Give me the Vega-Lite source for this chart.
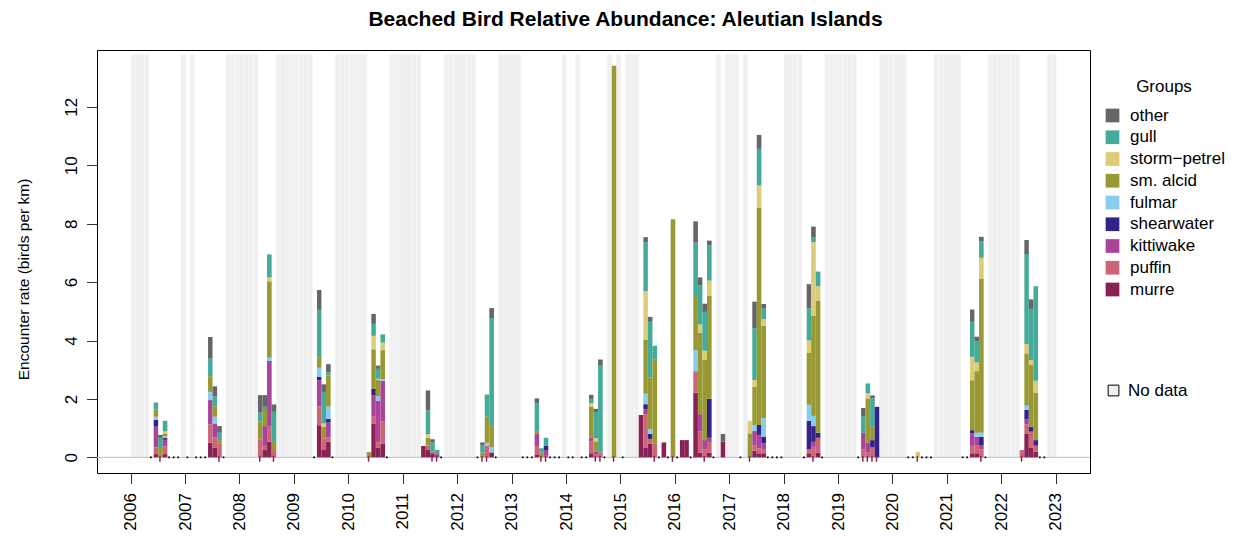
{
"$schema": "https://vega.github.io/schema/vega-lite/v6.json",
"width": 993,
"height": 423,
"autosize": {"type": "none"},
"padding": {"left": 97, "top": 50, "right": 149, "bottom": 65},
"background": "white",
"title": {"text": "Beached Bird Relative Abundance: Aleutian Islands", "anchor": "middle", "frame": "group", "font": "Liberation Sans", "fontSize": 21, "fontWeight": "bold", "color": "#000", "baseline": "alphabetic", "offset": 3, "dx": 32},
"config": {
  "view": {"stroke": "#000", "strokeWidth": 1},
  "axis": {"labelFont": "Liberation Sans", "labelFontSize": 17, "labelColor": "#000", "titleFont": "Liberation Sans", "titleFontSize": 17, "titleFontWeight": "normal", "titleColor": "#000", "tickColor": "#333", "tickSize": 10.5, "domain": false, "grid": false}
},
"datasets": {
  "abund": [
{"m":"2006-06-01","g":"murre","v":0.11},{"m":"2006-06-01","g":"puffin","v":0.23},{"m":"2006-06-01","g":"kittiwake","v":0.71},{"m":"2006-06-01","g":"shearwater","v":0.23},{"m":"2006-06-01","g":"fulmar","v":0.11},{"m":"2006-06-01","g":"sm. alcid","v":0.25},{"m":"2006-06-01","g":"gull","v":0.24},
{"m":"2006-07-01","g":"sm. alcid","v":0.32},{"m":"2006-07-01","g":"gull","v":0.34},{"m":"2006-07-01","g":"other","v":0.11},
{"m":"2006-08-01","g":"murre","v":0.11},{"m":"2006-08-01","g":"puffin","v":0.26},{"m":"2006-08-01","g":"kittiwake","v":0.23},{"m":"2006-08-01","g":"shearwater","v":0.06},{"m":"2006-08-01","g":"fulmar","v":0.06},{"m":"2006-08-01","g":"sm. alcid","v":0.1},{"m":"2006-08-01","g":"storm-petrel","v":0.07},{"m":"2006-08-01","g":"gull","v":0.36},
{"m":"2007-06-01","g":"murre","v":0.5},{"m":"2007-06-01","g":"puffin","v":0.63},{"m":"2007-06-01","g":"kittiwake","v":0.83},{"m":"2007-06-01","g":"fulmar","v":0.28},{"m":"2007-06-01","g":"sm. alcid","v":0.54},{"m":"2007-06-01","g":"gull","v":0.6},{"m":"2007-06-01","g":"other","v":0.74},
{"m":"2007-07-01","g":"murre","v":0.34},{"m":"2007-07-01","g":"puffin","v":0.34},{"m":"2007-07-01","g":"kittiwake","v":0.48},{"m":"2007-07-01","g":"fulmar","v":0.23},{"m":"2007-07-01","g":"sm. alcid","v":0.36},{"m":"2007-07-01","g":"gull","v":0.34},{"m":"2007-07-01","g":"other","v":0.34},
{"m":"2007-08-01","g":"puffin","v":0.48},{"m":"2007-08-01","g":"sm. alcid","v":0.11},{"m":"2007-08-01","g":"gull","v":0.25},{"m":"2007-08-01","g":"other","v":0.23},
{"m":"2008-05-01","g":"puffin","v":0.62},{"m":"2008-05-01","g":"sm. alcid","v":0.6},{"m":"2008-05-01","g":"gull","v":0.31},{"m":"2008-05-01","g":"other","v":0.6},
{"m":"2008-06-01","g":"murre","v":0.25},{"m":"2008-06-01","g":"puffin","v":0.14},{"m":"2008-06-01","g":"kittiwake","v":0.68},{"m":"2008-06-01","g":"sm. alcid","v":0.55},{"m":"2008-06-01","g":"gull","v":0.11},{"m":"2008-06-01","g":"other","v":0.4},
{"m":"2008-07-01","g":"murre","v":0.54},{"m":"2008-07-01","g":"puffin","v":0.51},{"m":"2008-07-01","g":"kittiwake","v":2.25},{"m":"2008-07-01","g":"fulmar","v":0.11},{"m":"2008-07-01","g":"sm. alcid","v":2.62},{"m":"2008-07-01","g":"storm-petrel","v":0.13},{"m":"2008-07-01","g":"gull","v":0.79},
{"m":"2008-08-01","g":"puffin","v":0.25},{"m":"2008-08-01","g":"sm. alcid","v":0.28},{"m":"2008-08-01","g":"gull","v":1.03},{"m":"2008-08-01","g":"other","v":0.25},
{"m":"2009-06-01","g":"murre","v":1.1},{"m":"2009-06-01","g":"puffin","v":0.65},{"m":"2009-06-01","g":"kittiwake","v":0.89},{"m":"2009-06-01","g":"shearwater","v":0.11},{"m":"2009-06-01","g":"fulmar","v":0.32},{"m":"2009-06-01","g":"sm. alcid","v":0.34},{"m":"2009-06-01","g":"gull","v":1.64},{"m":"2009-06-01","g":"other","v":0.68},
{"m":"2009-07-01","g":"murre","v":0.25},{"m":"2009-07-01","g":"puffin","v":0.4},{"m":"2009-07-01","g":"sm. alcid","v":0.4},{"m":"2009-07-01","g":"storm-petrel","v":0.11},{"m":"2009-07-01","g":"gull","v":1.08},{"m":"2009-07-01","g":"other","v":0.26},
{"m":"2009-08-01","g":"murre","v":0.54},{"m":"2009-08-01","g":"puffin","v":0.14},{"m":"2009-08-01","g":"kittiwake","v":0.51},{"m":"2009-08-01","g":"shearwater","v":0.13},{"m":"2009-08-01","g":"fulmar","v":0.42},{"m":"2009-08-01","g":"sm. alcid","v":1.06},{"m":"2009-08-01","g":"gull","v":0.11},{"m":"2009-08-01","g":"other","v":0.28},
{"m":"2010-05-01","g":"sm. alcid","v":0.18},
{"m":"2010-06-01","g":"murre","v":1.16},{"m":"2010-06-01","g":"puffin","v":0.23},{"m":"2010-06-01","g":"kittiwake","v":0.74},{"m":"2010-06-01","g":"shearwater","v":0.21},{"m":"2010-06-01","g":"sm. alcid","v":1.36},{"m":"2010-06-01","g":"storm-petrel","v":0.46},{"m":"2010-06-01","g":"gull","v":0.41},{"m":"2010-06-01","g":"other","v":0.34},
{"m":"2010-07-01","g":"murre","v":0.34},{"m":"2010-07-01","g":"puffin","v":0.19},{"m":"2010-07-01","g":"kittiwake","v":1.4},{"m":"2010-07-01","g":"fulmar","v":0.16},{"m":"2010-07-01","g":"sm. alcid","v":0.57},{"m":"2010-07-01","g":"storm-petrel","v":0.03},{"m":"2010-07-01","g":"gull","v":0.34},{"m":"2010-07-01","g":"other","v":0.11},
{"m":"2010-08-01","g":"murre","v":0.46},{"m":"2010-08-01","g":"puffin","v":0.76},{"m":"2010-08-01","g":"kittiwake","v":1.4},{"m":"2010-08-01","g":"fulmar","v":0.06},{"m":"2010-08-01","g":"sm. alcid","v":0.99},{"m":"2010-08-01","g":"storm-petrel","v":0.26},{"m":"2010-08-01","g":"gull","v":0.28},
{"m":"2011-05-01","g":"murre","v":0.39},
{"m":"2011-06-01","g":"murre","v":0.27},{"m":"2011-06-01","g":"puffin","v":0.13},{"m":"2011-06-01","g":"sm. alcid","v":0.28},{"m":"2011-06-01","g":"storm-petrel","v":0.11},{"m":"2011-06-01","g":"gull","v":0.82},{"m":"2011-06-01","g":"other","v":0.68},
{"m":"2011-07-01","g":"murre","v":0.14},{"m":"2011-07-01","g":"puffin","v":0.06},{"m":"2011-07-01","g":"gull","v":0.31},{"m":"2011-07-01","g":"other","v":0.11},
{"m":"2011-08-01","g":"kittiwake","v":0.11},{"m":"2011-08-01","g":"gull","v":0.14},
{"m":"2012-06-01","g":"sm. alcid","v":0.16},{"m":"2012-06-01","g":"gull","v":0.26},{"m":"2012-06-01","g":"other","v":0.09},
{"m":"2012-07-01","g":"puffin","v":0.39},{"m":"2012-07-01","g":"fulmar","v":0.11},{"m":"2012-07-01","g":"sm. alcid","v":0.89},{"m":"2012-07-01","g":"gull","v":0.76},
{"m":"2012-08-01","g":"murre","v":0.17},{"m":"2012-08-01","g":"fulmar","v":0.17},{"m":"2012-08-01","g":"sm. alcid","v":0.73},{"m":"2012-08-01","g":"gull","v":3.7},{"m":"2012-08-01","g":"other","v":0.34},
{"m":"2013-06-01","g":"murre","v":0.08},{"m":"2013-06-01","g":"puffin","v":0.31},{"m":"2013-06-01","g":"kittiwake","v":0.43},{"m":"2013-06-01","g":"sm. alcid","v":0.09},{"m":"2013-06-01","g":"gull","v":0.94},{"m":"2013-06-01","g":"other","v":0.17},
{"m":"2013-07-01","g":"sm. alcid","v":0.16},{"m":"2013-07-01","g":"gull","v":0.15},
{"m":"2013-08-01","g":"puffin","v":0.08},{"m":"2013-08-01","g":"kittiwake","v":0.17},{"m":"2013-08-01","g":"shearwater","v":0.14},{"m":"2013-08-01","g":"gull","v":0.28},
{"m":"2014-06-01","g":"murre","v":0.14},{"m":"2014-06-01","g":"puffin","v":0.4},{"m":"2014-06-01","g":"kittiwake","v":0.14},{"m":"2014-06-01","g":"sm. alcid","v":1.06},{"m":"2014-06-01","g":"storm-petrel","v":0.11},{"m":"2014-06-01","g":"gull","v":0.15},{"m":"2014-06-01","g":"other","v":0.14},
{"m":"2014-07-01","g":"puffin","v":0.11},{"m":"2014-07-01","g":"kittiwake","v":0.1},{"m":"2014-07-01","g":"sm. alcid","v":0.34},{"m":"2014-07-01","g":"storm-petrel","v":0.11},{"m":"2014-07-01","g":"gull","v":0.89},{"m":"2014-07-01","g":"other","v":0.11},
{"m":"2014-08-01","g":"puffin","v":0.17},{"m":"2014-08-01","g":"gull","v":2.99},{"m":"2014-08-01","g":"other","v":0.19},
{"m":"2014-11-01","g":"sm. alcid","v":13.41},
{"m":"2015-05-01","g":"murre","v":1.45},
{"m":"2015-06-01","g":"murre","v":0.34},{"m":"2015-06-01","g":"puffin","v":1.14},{"m":"2015-06-01","g":"kittiwake","v":0.17},{"m":"2015-06-01","g":"shearwater","v":0.17},{"m":"2015-06-01","g":"fulmar","v":0.36},{"m":"2015-06-01","g":"sm. alcid","v":1.85},{"m":"2015-06-01","g":"storm-petrel","v":1.66},{"m":"2015-06-01","g":"gull","v":1.68},{"m":"2015-06-01","g":"other","v":0.17},
{"m":"2015-07-01","g":"murre","v":0.46},{"m":"2015-07-01","g":"puffin","v":0.17},{"m":"2015-07-01","g":"shearwater","v":0.17},{"m":"2015-07-01","g":"fulmar","v":0.16},{"m":"2015-07-01","g":"sm. alcid","v":1.77},{"m":"2015-07-01","g":"gull","v":1.91},{"m":"2015-07-01","g":"other","v":0.17},
{"m":"2015-08-01","g":"puffin","v":0.46},{"m":"2015-08-01","g":"sm. alcid","v":2.9},{"m":"2015-08-01","g":"gull","v":0.46},
{"m":"2015-10-01","g":"murre","v":0.51},
{"m":"2015-12-01","g":"sm. alcid","v":8.15},
{"m":"2016-02-01","g":"murre","v":0.59},
{"m":"2016-03-01","g":"murre","v":0.59},
{"m":"2016-05-01","g":"murre","v":2.21},{"m":"2016-05-01","g":"puffin","v":0.74},{"m":"2016-05-01","g":"fulmar","v":0.72},{"m":"2016-05-01","g":"sm. alcid","v":1.85},{"m":"2016-05-01","g":"gull","v":1.83},{"m":"2016-05-01","g":"other","v":0.73},
{"m":"2016-06-01","g":"murre","v":0.16},{"m":"2016-06-01","g":"puffin","v":0.72},{"m":"2016-06-01","g":"kittiwake","v":0.6},{"m":"2016-06-01","g":"sm. alcid","v":2.79},{"m":"2016-06-01","g":"storm-petrel","v":0.28},{"m":"2016-06-01","g":"gull","v":1.33},{"m":"2016-06-01","g":"other","v":0.28},
{"m":"2016-07-01","g":"puffin","v":0.27},{"m":"2016-07-01","g":"kittiwake","v":0.32},{"m":"2016-07-01","g":"sm. alcid","v":2.76},{"m":"2016-07-01","g":"storm-petrel","v":0.3},{"m":"2016-07-01","g":"gull","v":1.33},{"m":"2016-07-01","g":"other","v":0.28},
{"m":"2016-08-01","g":"murre","v":0.16},{"m":"2016-08-01","g":"puffin","v":0.34},{"m":"2016-08-01","g":"kittiwake","v":0.17},{"m":"2016-08-01","g":"shearwater","v":1.34},{"m":"2016-08-01","g":"sm. alcid","v":3.53},{"m":"2016-08-01","g":"storm-petrel","v":0.51},{"m":"2016-08-01","g":"gull","v":1.2},{"m":"2016-08-01","g":"other","v":0.17},
{"m":"2016-11-01","g":"murre","v":0.54},{"m":"2016-11-01","g":"other","v":0.26},
{"m":"2017-05-01","g":"sm. alcid","v":0.82},{"m":"2017-05-01","g":"storm-petrel","v":0.43},
{"m":"2017-06-01","g":"murre","v":0.23},{"m":"2017-06-01","g":"puffin","v":0.19},{"m":"2017-06-01","g":"kittiwake","v":0.48},{"m":"2017-06-01","g":"fulmar","v":0.21},{"m":"2017-06-01","g":"sm. alcid","v":1.31},{"m":"2017-06-01","g":"storm-petrel","v":0.23},{"m":"2017-06-01","g":"gull","v":1.77},{"m":"2017-06-01","g":"other","v":0.91},
{"m":"2017-07-01","g":"murre","v":0.14},{"m":"2017-07-01","g":"puffin","v":0.17},{"m":"2017-07-01","g":"kittiwake","v":0.46},{"m":"2017-07-01","g":"shearwater","v":0.34},{"m":"2017-07-01","g":"sm. alcid","v":7.44},{"m":"2017-07-01","g":"storm-petrel","v":0.76},{"m":"2017-07-01","g":"gull","v":1.25},{"m":"2017-07-01","g":"other","v":0.48},
{"m":"2017-08-01","g":"murre","v":0.14},{"m":"2017-08-01","g":"puffin","v":0.14},{"m":"2017-08-01","g":"kittiwake","v":0.2},{"m":"2017-08-01","g":"shearwater","v":0.23},{"m":"2017-08-01","g":"fulmar","v":0.63},{"m":"2017-08-01","g":"sm. alcid","v":3.16},{"m":"2017-08-01","g":"storm-petrel","v":0.23},{"m":"2017-08-01","g":"gull","v":0.38},{"m":"2017-08-01","g":"other","v":0.14},
{"m":"2018-06-01","g":"murre","v":0.14},{"m":"2018-06-01","g":"puffin","v":0.14},{"m":"2018-06-01","g":"shearwater","v":0.97},{"m":"2018-06-01","g":"fulmar","v":0.55},{"m":"2018-06-01","g":"sm. alcid","v":1.79},{"m":"2018-06-01","g":"storm-petrel","v":0.41},{"m":"2018-06-01","g":"gull","v":1.1},{"m":"2018-06-01","g":"other","v":0.83},
{"m":"2018-07-01","g":"puffin","v":0.36},{"m":"2018-07-01","g":"kittiwake","v":0.17},{"m":"2018-07-01","g":"shearwater","v":0.54},{"m":"2018-07-01","g":"fulmar","v":0.35},{"m":"2018-07-01","g":"sm. alcid","v":3.42},{"m":"2018-07-01","g":"storm-petrel","v":2.53},{"m":"2018-07-01","g":"gull","v":0.17},{"m":"2018-07-01","g":"other","v":0.36},
{"m":"2018-08-01","g":"murre","v":0.16},{"m":"2018-08-01","g":"puffin","v":0.51},{"m":"2018-08-01","g":"shearwater","v":0.17},{"m":"2018-08-01","g":"sm. alcid","v":4.51},{"m":"2018-08-01","g":"storm-petrel","v":0.51},{"m":"2018-08-01","g":"gull","v":0.5},
{"m":"2019-06-01","g":"puffin","v":0.27},{"m":"2019-06-01","g":"kittiwake","v":0.57},{"m":"2019-06-01","g":"gull","v":0.57},{"m":"2019-06-01","g":"other","v":0.28},
{"m":"2019-07-01","g":"puffin","v":0.16},{"m":"2019-07-01","g":"kittiwake","v":0.34},{"m":"2019-07-01","g":"sm. alcid","v":1.52},{"m":"2019-07-01","g":"storm-petrel","v":0.17},{"m":"2019-07-01","g":"gull","v":0.34},
{"m":"2019-08-01","g":"puffin","v":0.34},{"m":"2019-08-01","g":"shearwater","v":0.25},{"m":"2019-08-01","g":"sm. alcid","v":0.46},{"m":"2019-08-01","g":"gull","v":0.97},{"m":"2019-08-01","g":"other","v":0.1},
{"m":"2019-09-01","g":"shearwater","v":1.73},
{"m":"2020-06-01","g":"storm-petrel","v":0.19},
{"m":"2021-06-01","g":"murre","v":0.14},{"m":"2021-06-01","g":"puffin","v":0.25},{"m":"2021-06-01","g":"kittiwake","v":0.43},{"m":"2021-06-01","g":"shearwater","v":0.11},{"m":"2021-06-01","g":"sm. alcid","v":1.71},{"m":"2021-06-01","g":"storm-petrel","v":0.8},{"m":"2021-06-01","g":"gull","v":1.2},{"m":"2021-06-01","g":"other","v":0.42},
{"m":"2021-07-01","g":"murre","v":0.14},{"m":"2021-07-01","g":"puffin","v":0.28},{"m":"2021-07-01","g":"kittiwake","v":0.28},{"m":"2021-07-01","g":"fulmar","v":0.14},{"m":"2021-07-01","g":"sm. alcid","v":2.11},{"m":"2021-07-01","g":"storm-petrel","v":0.3},{"m":"2021-07-01","g":"gull","v":0.73},{"m":"2021-07-01","g":"other","v":0.15},
{"m":"2021-08-01","g":"puffin","v":0.27},{"m":"2021-08-01","g":"kittiwake","v":0.15},{"m":"2021-08-01","g":"shearwater","v":0.28},{"m":"2021-08-01","g":"fulmar","v":0.14},{"m":"2021-08-01","g":"sm. alcid","v":5.28},{"m":"2021-08-01","g":"storm-petrel","v":0.71},{"m":"2021-08-01","g":"gull","v":0.57},{"m":"2021-08-01","g":"other","v":0.15},
{"m":"2022-05-01","g":"puffin","v":0.25},
{"m":"2022-06-01","g":"murre","v":0.8},{"m":"2022-06-01","g":"puffin","v":0.33},{"m":"2022-06-01","g":"kittiwake","v":0.17},{"m":"2022-06-01","g":"shearwater","v":0.32},{"m":"2022-06-01","g":"fulmar","v":0.15},{"m":"2022-06-01","g":"sm. alcid","v":1.79},{"m":"2022-06-01","g":"storm-petrel","v":0.32},{"m":"2022-06-01","g":"gull","v":3.08},{"m":"2022-06-01","g":"other","v":0.48},
{"m":"2022-07-01","g":"murre","v":0.34},{"m":"2022-07-01","g":"puffin","v":0.54},{"m":"2022-07-01","g":"shearwater","v":0.17},{"m":"2022-07-01","g":"sm. alcid","v":2.11},{"m":"2022-07-01","g":"storm-petrel","v":0.17},{"m":"2022-07-01","g":"gull","v":1.74},{"m":"2022-07-01","g":"other","v":0.34},
{"m":"2022-08-01","g":"murre","v":0.19},{"m":"2022-08-01","g":"puffin","v":0.21},{"m":"2022-08-01","g":"shearwater","v":0.19},{"m":"2022-08-01","g":"sm. alcid","v":1.62},{"m":"2022-08-01","g":"storm-petrel","v":0.41},{"m":"2022-08-01","g":"gull","v":3.24}
  ],
  "nodata": [
{"m":"2006-01-01","s":"No data"},{"m":"2006-02-01","s":"No data"},{"m":"2006-03-01","s":"No data"},{"m":"2006-04-01","s":"No data"},{"m":"2006-12-01","s":"No data"},{"m":"2007-02-01","s":"No data"},
{"m":"2007-10-01","s":"No data"},{"m":"2007-11-01","s":"No data"},{"m":"2007-12-01","s":"No data"},{"m":"2008-01-01","s":"No data"},{"m":"2008-02-01","s":"No data"},{"m":"2008-03-01","s":"No data"},{"m":"2008-04-01","s":"No data"},
{"m":"2008-09-01","s":"No data"},{"m":"2008-10-01","s":"No data"},{"m":"2008-11-01","s":"No data"},{"m":"2008-12-01","s":"No data"},{"m":"2009-01-01","s":"No data"},{"m":"2009-02-01","s":"No data"},{"m":"2009-03-01","s":"No data"},{"m":"2009-04-01","s":"No data"},
{"m":"2009-10-01","s":"No data"},{"m":"2009-11-01","s":"No data"},{"m":"2009-12-01","s":"No data"},{"m":"2010-01-01","s":"No data"},{"m":"2010-02-01","s":"No data"},{"m":"2010-03-01","s":"No data"},{"m":"2010-04-01","s":"No data"},
{"m":"2010-10-01","s":"No data"},{"m":"2010-11-01","s":"No data"},{"m":"2010-12-01","s":"No data"},{"m":"2011-01-01","s":"No data"},{"m":"2011-02-01","s":"No data"},{"m":"2011-03-01","s":"No data"},{"m":"2011-04-01","s":"No data"},
{"m":"2011-10-01","s":"No data"},{"m":"2011-11-01","s":"No data"},{"m":"2011-12-01","s":"No data"},{"m":"2012-01-01","s":"No data"},{"m":"2012-02-01","s":"No data"},{"m":"2012-03-01","s":"No data"},{"m":"2012-04-01","s":"No data"},
{"m":"2012-10-01","s":"No data"},{"m":"2012-11-01","s":"No data"},{"m":"2012-12-01","s":"No data"},{"m":"2013-01-01","s":"No data"},{"m":"2013-02-01","s":"No data"},
{"m":"2013-12-01","s":"No data"},{"m":"2014-03-01","s":"No data"},{"m":"2014-10-01","s":"No data"},{"m":"2014-12-01","s":"No data"},
{"m":"2015-02-01","s":"No data"},{"m":"2015-03-01","s":"No data"},{"m":"2015-04-01","s":"No data"},
{"m":"2016-10-01","s":"No data"},{"m":"2016-12-01","s":"No data"},{"m":"2017-01-01","s":"No data"},{"m":"2017-02-01","s":"No data"},{"m":"2017-04-01","s":"No data"},
{"m":"2018-01-01","s":"No data"},{"m":"2018-02-01","s":"No data"},{"m":"2018-03-01","s":"No data"},{"m":"2018-04-01","s":"No data"},
{"m":"2018-10-01","s":"No data"},{"m":"2018-11-01","s":"No data"},{"m":"2018-12-01","s":"No data"},{"m":"2019-01-01","s":"No data"},{"m":"2019-02-01","s":"No data"},{"m":"2019-03-01","s":"No data"},{"m":"2019-04-01","s":"No data"},
{"m":"2019-10-01","s":"No data"},{"m":"2019-11-01","s":"No data"},{"m":"2019-12-01","s":"No data"},{"m":"2020-01-01","s":"No data"},{"m":"2020-02-01","s":"No data"},{"m":"2020-03-01","s":"No data"},
{"m":"2020-10-01","s":"No data"},{"m":"2020-11-01","s":"No data"},{"m":"2020-12-01","s":"No data"},{"m":"2021-01-01","s":"No data"},{"m":"2021-02-01","s":"No data"},{"m":"2021-03-01","s":"No data"},
{"m":"2021-10-01","s":"No data"},{"m":"2021-11-01","s":"No data"},{"m":"2021-12-01","s":"No data"},{"m":"2022-01-01","s":"No data"},{"m":"2022-02-01","s":"No data"},{"m":"2022-03-01","s":"No data"},{"m":"2022-04-01","s":"No data"},
{"m":"2022-11-01","s":"No data"},{"m":"2022-12-01","s":"No data"}
  ],
  "zero": [
{"m":"2006-05-01"},{"m":"2006-09-01"},{"m":"2006-10-01"},{"m":"2006-11-01"},{"m":"2007-01-01"},{"m":"2007-03-01"},{"m":"2007-04-01"},{"m":"2007-05-01"},{"m":"2007-09-01"},
{"m":"2009-05-01"},{"m":"2009-09-01"},{"m":"2010-09-01"},{"m":"2011-09-01"},{"m":"2012-05-01"},{"m":"2012-09-01"},
{"m":"2013-03-01"},{"m":"2013-04-01"},{"m":"2013-05-01"},{"m":"2013-09-01"},{"m":"2013-10-01"},{"m":"2013-11-01"},
{"m":"2014-01-01"},{"m":"2014-02-01"},{"m":"2014-04-01"},{"m":"2014-05-01"},{"m":"2014-09-01"},{"m":"2015-01-01"},{"m":"2015-09-01"},{"m":"2015-11-01"},
{"m":"2016-01-01"},{"m":"2016-04-01"},{"m":"2016-09-01"},{"m":"2017-03-01"},{"m":"2017-09-01"},{"m":"2017-10-01"},{"m":"2017-11-01"},{"m":"2017-12-01"},
{"m":"2018-05-01"},{"m":"2018-09-01"},{"m":"2019-05-01"},{"m":"2020-04-01"},{"m":"2020-05-01"},{"m":"2020-07-01"},{"m":"2020-08-01"},{"m":"2020-09-01"},
{"m":"2021-04-01"},{"m":"2021-05-01"},{"m":"2021-09-01"},{"m":"2022-09-01"},{"m":"2022-10-01"}
  ],
  "ticks": [
{"m":"2006-07-01"},{"m":"2007-08-01"},{"m":"2008-05-01"},{"m":"2008-08-01"},{"m":"2010-05-01"},{"m":"2011-07-01"},{"m":"2011-08-01"},{"m":"2012-06-01"},{"m":"2012-07-01"},
{"m":"2013-07-01"},{"m":"2013-08-01"},{"m":"2014-07-01"},{"m":"2014-08-01"},{"m":"2014-11-01"},{"m":"2015-08-01"},{"m":"2015-12-01"},{"m":"2016-07-01"},{"m":"2017-05-01"},
{"m":"2018-07-01"},{"m":"2019-06-01"},{"m":"2019-07-01"},{"m":"2019-08-01"},{"m":"2019-09-01"},{"m":"2020-06-01"},{"m":"2021-08-01"},{"m":"2022-05-01"}
  ]
},
"layer": [
  {
    "data": {"name": "nodata"},
    "mark": {"type": "bar", "binSpacing": 0, "stroke": "#f7f7f7", "strokeWidth": 0.4},
    "encoding": {
      "x": {"field": "m", "type": "temporal", "timeUnit": "utcyearmonth", "title": null,
        "scale": {"type": "utc", "nice": false, "domain": [{"year": 2005, "month": 5, "date": 20, "utc": true}, {"year": 2023, "month": 8, "date": 19, "utc": true}]},
        "axis": {"tickCount": {"interval": "year", "step": 1}, "labelExpr": "utcFormat(datum.value, '%Y')", "labelAngle": -90, "labelPadding": 9, "labelFlush": false, "labelOverlap": false}},
      "y": {"datum": 0, "type": "quantitative",
        "scale": {"domain": [-0.536, 13.946], "nice": false, "zero": false},
        "axis": {"title": "Encounter rate (birds per km)", "values": [0, 2, 4, 6, 8, 10, 12], "labelAngle": -90, "labelAlign": "center", "labelBaseline": "alphabetic", "labelPadding": 10, "titleFontSize": 15.5, "titleX": -69, "titleY": 229, "titleAngle": -90, "titleAlign": "center", "titleBaseline": "alphabetic"}},
      "y2": {"datum": 13.8},
      "fill": {"field": "s", "type": "nominal", "scale": {"range": ["#f0f0f0"]},
        "legend": {"title": null, "orient": "none", "legendX": 1008, "legendY": 332, "symbolType": "square", "symbolSize": 115, "symbolStrokeColor": "#000", "symbolStrokeWidth": 1, "labelFont": "Liberation Sans", "labelFontSize": 17, "labelColor": "#000", "labelOffset": 6, "padding": 0}}
    }
  },
  {
    "data": {"values": [{}]},
    "mark": {"type": "rule", "color": "#bebebe", "strokeWidth": 1},
    "encoding": {"y": {"datum": 0}}
  },
  {
    "data": {"name": "abund"},
    "transform": [{"calculate": "indexof(['murre','puffin','kittiwake','shearwater','fulmar','sm. alcid','storm-petrel','gull','other'], datum.g)", "as": "ord"}],
    "mark": {"type": "bar", "binSpacing": 0},
    "encoding": {
      "x": {"field": "m", "type": "temporal", "timeUnit": "utcyearmonth", "title": null,
        "scale": {"type": "utc", "nice": false, "domain": [{"year": 2005, "month": 5, "date": 20, "utc": true}, {"year": 2023, "month": 8, "date": 19, "utc": true}]},
        "axis": {"tickCount": {"interval": "year", "step": 1}, "labelExpr": "utcFormat(datum.value, '%Y')", "labelAngle": -90, "labelPadding": 9, "labelFlush": false, "labelOverlap": false}},
      "y": {"field": "v", "type": "quantitative", "stack": "zero",
        "scale": {"domain": [-0.536, 13.946], "nice": false, "zero": false},
        "axis": {"title": "Encounter rate (birds per km)", "values": [0, 2, 4, 6, 8, 10, 12], "labelAngle": -90, "labelAlign": "center", "labelBaseline": "alphabetic", "labelPadding": 10, "titleFontSize": 15.5, "titleX": -69, "titleY": 229, "titleAngle": -90, "titleAlign": "center", "titleBaseline": "alphabetic"}},
      "color": {"field": "g", "type": "nominal",
        "scale": {"domain": ["other", "gull", "storm-petrel", "sm. alcid", "fulmar", "shearwater", "kittiwake", "puffin", "murre"],
                  "range": ["#666666", "#44AA99", "#DDCC77", "#999933", "#88CCEE", "#332288", "#AA4499", "#CC6677", "#882255"]},
        "legend": {"title": "Groups", "orient": "none", "legendX": 1007, "legendY": 29, "titleAnchor": "middle", "titleFont": "Liberation Sans", "titleFontSize": 17, "titleFontWeight": "normal", "titleColor": "#000", "titlePadding": 11, "labelFont": "Liberation Sans", "labelFontSize": 17, "labelColor": "#000", "symbolType": "square", "symbolSize": 188, "symbolStrokeWidth": 0, "symbolOpacity": 1, "rowPadding": 3.75, "labelOffset": 9, "padding": 0,
          "labelExpr": "replace(datum.label, '-', '\u2212')"}},
      "order": {"field": "ord", "type": "quantitative"}
    }
  },
  {
    "data": {"name": "zero"},
    "mark": {"type": "square", "filled": true, "color": "#000", "size": 3, "opacity": 1},
    "encoding": {
      "x": {"field": "m", "type": "temporal", "timeUnit": "utcyearmonth", "bandPosition": 0.5, "title": null},
      "y": {"datum": 0}
    }
  },
  {
    "data": {"name": "ticks"},
    "mark": {"type": "rule", "color": "#882255", "strokeWidth": 1.5},
    "encoding": {
      "x": {"field": "m", "type": "temporal", "timeUnit": "utcyearmonth", "bandPosition": 0.5, "title": null},
      "y": {"datum": 0.05},
      "y2": {"datum": -0.15}
    }
  }
]
}
